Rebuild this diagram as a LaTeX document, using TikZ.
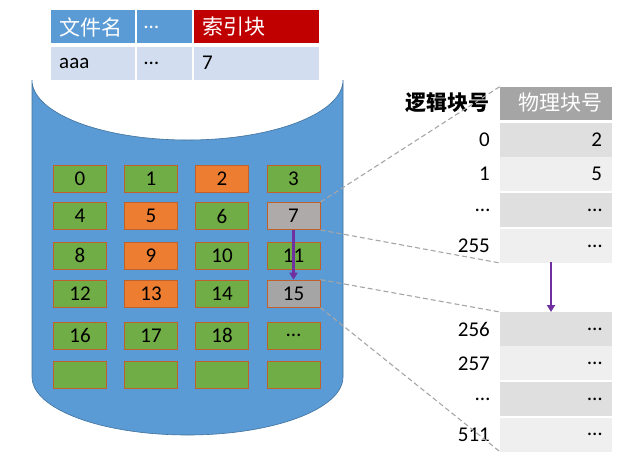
\documentclass[tikz,border=0pt]{standalone}
\usepackage{fontspec}
\setmainfont{Carlito}
\newfontfamily\cjk{Noto Sans CJK SC}
\usetikzlibrary{arrows.meta}
\definecolor{cylblue}{HTML}{5B9BD5}
\definecolor{cylborder}{HTML}{41719C}
\definecolor{hdrred}{HTML}{C00000}
\definecolor{rowblue}{HTML}{D2DEEF}
\definecolor{blkgreen}{HTML}{70AD47}
\definecolor{blkorange}{HTML}{ED7D31}
\definecolor{blkedge}{HTML}{C0602A}
\definecolor{gray7}{HTML}{AEAAAA}
\definecolor{gray15}{HTML}{A5A5A5}
\definecolor{rowdark}{HTML}{DFDFDF}
\definecolor{rowlight}{HTML}{EFEFEF}
\definecolor{arrowpurple}{HTML}{7030A0}
\definecolor{dashgray}{HTML}{A6A6A6}
\begin{document}
\begin{tikzpicture}[x=1pt,y=-1pt,
  every node/.style={font=\fontsize{21}{25}\selectfont},
  tlabel/.style={anchor=west,inner sep=0pt},
  blk/.style={draw=blkedge,line width=1pt,minimum width=53pt,minimum height=27pt,inner sep=0pt},
  gblk/.style={blk,fill=blkgreen},
  oblk/.style={blk,fill=blkorange},
  pcell/.style={inner xsep=10pt,inner ysep=0pt,text width=92pt,align=right,minimum height=34pt,outer sep=0pt},
  lnum/.style={anchor=east,inner sep=0pt},
  dashline/.style={draw=dashgray,line width=1.1pt,dash pattern=on 5pt off 3pt},
  parrow/.style={draw=arrowpurple,line width=2.4pt,-{Triangle[width=8pt,length=7pt]}}
]
\useasboundingbox (0,0) rectangle (637,472);
% cylinder
\path[fill=cylblue,draw=cylborder,line width=0.6pt]
  (32,80) -- (32,377)
  .. controls (32,409) and (101.6,435) .. (187.5,435)
  .. controls (273.4,435) and (343,409) .. (343,377)
  -- (343,80)
  .. controls (343,113.1) and (273.4,140) .. (187.5,140)
  .. controls (101.6,140) and (32,113.1) .. (32,80) -- cycle;
% file table
\fill[cylblue] (51,10) rectangle (135,43.3);
\fill[cylblue] (136.7,10) rectangle (192.3,43.3);
\fill[hdrred] (194,10) rectangle (319,43.3);
\fill[rowblue] (51,46.7) rectangle (135,80);
\fill[rowblue] (136.7,46.7) rectangle (192.3,80);
\fill[rowblue] (194,46.7) rectangle (319,80);
\node[tlabel,text=white,font=\cjk\fontsize{21}{25}\selectfont] (h1) at (59,27) {文件名};
\node[tlabel,text=white] (h2) at (144,27) {…};
\node[tlabel,text=white,font=\cjk\fontsize{21}{25}\selectfont] (h3) at (202,27) {索引块};
\node[tlabel] (d1) at (59,63) {aaa};
\node[tlabel] (d2) at (144,63) {…};
\node[tlabel] (d3) at (202,63) {7};
% blocks
\node[gblk] (b0) at (80,179) {0};
\node[gblk] (b1) at (151,179) {1};
\node[oblk] (b2) at (222,179) {2};
\node[gblk] (b3) at (293.5,179) {3};
\node[gblk] (b4) at (80,216) {4};
\node[oblk] (b5) at (151,216) {5};
\node[gblk] (b6) at (222,216) {6};
\node[blk,fill=gray7] (b7) at (293.5,216) {7};
\node[gblk] (b8) at (80,255.5) {8};
\node[oblk] (b9) at (151,255.5) {9};
\node[gblk] (b10) at (222,255.5) {10};
\node[gblk] (b11) at (293.5,255.5) {11};
\node[gblk] (b12) at (80,293.7) {12};
\node[oblk] (b13) at (151,293.7) {13};
\node[gblk] (b14) at (222,293.7) {14};
\node[blk,fill=gray15] (b15) at (293.5,293.7) {15};
\node[gblk] (b16) at (80,335.7) {16};
\node[gblk] (b17) at (151,335.7) {17};
\node[gblk] (b18) at (222,335.7) {18};
\node[gblk] (b19) at (293.5,335.7) {…};
\node[gblk] (b20) at (80,375) {};
\node[gblk] (b21) at (151,375) {};
\node[gblk] (b22) at (222,375) {};
\node[gblk] (b23) at (293.5,375) {};
\draw[parrow] (b7.south) -- (b15.north);
% physical block table
\node[pcell,fill=gray15,text=white,minimum height=33pt,font=\cjk\fontsize{21}{25}\selectfont] (ph) at (556,103) {物理块号};
\node[pcell,fill=rowdark] (r0) at (556,139.5) {2};
\node[pcell,fill=rowlight] (r1) at (556,174.2) {5};
\node[pcell,fill=rowdark] (r2) at (556,210) {…};
\node[pcell,fill=rowlight] (r3) at (556,246) {…};
\node[pcell,fill=rowdark] (r4) at (556,329) {…};
\node[pcell,fill=rowlight] (r5) at (556,363.3) {…};
\node[pcell,fill=rowdark] (r6) at (556,399) {…};
\node[pcell,fill=rowlight] (r7) at (556,434.7) {…};
\node[lnum,font=\cjk\bfseries\fontsize{21}{25}\selectfont] (lh) at (490,103) {逻辑块号};
\node[lnum] (l0) at (490,139.5) {0};
\node[lnum] (l1) at (490,174.2) {1};
\node[lnum] (l2) at (490,210) {…};
\node[lnum] (l3) at (490,246) {255};
\node[lnum] (l4) at (490,329) {256};
\node[lnum] (l5) at (490,363.3) {257};
\node[lnum] (l6) at (490,399) {…};
\node[lnum] (l7) at (490,434.7) {511};
% dashed connectors
\draw[dashline] (b7.north east) -- (ph.north west);
\draw[dashline] (b7.south east) -- (r3.south west);
\draw[dashline] (b15.north east) -- (r4.north west);
\draw[dashline] (b15.south east) -- (r7.south west);
\coordinate (a1) at (551,262);
\draw[parrow] (a1) -- (a1 |- r4.north);
\end{tikzpicture}
\end{document}
